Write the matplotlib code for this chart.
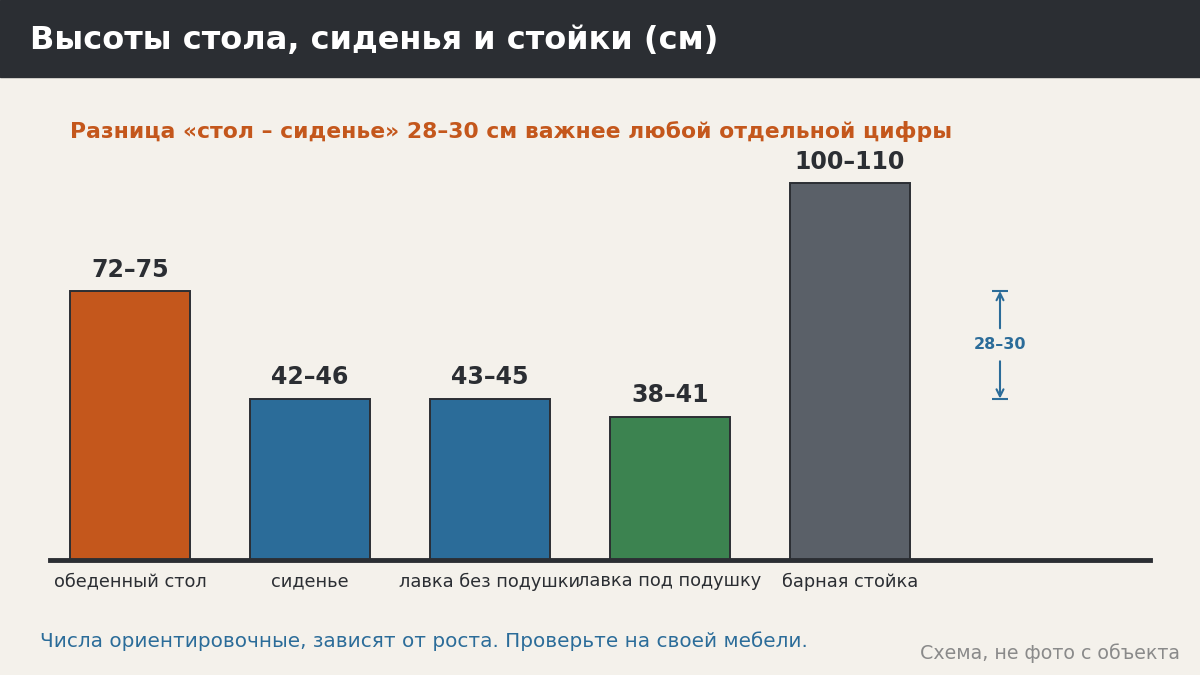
#!/usr/bin/env python3
"""Table / seat / bar counter heights, bar chart with a dimension marker."""
import matplotlib

matplotlib.use("Agg")
import matplotlib.pyplot as plt  # noqa: E402
from matplotlib.patches import Rectangle  # noqa: E402

plt.rcParams["font.family"] = ["DejaVu Sans"]

BG = "#f4f1eb"
DARK = "#2b2e33"
ORANGE = "#c4571c"
BLUE = "#2b6c99"
GREEN = "#3c8350"
GRAY = "#5a6068"

categories = ["обеденный стол", "сиденье", "лавка без подушки",
              "лавка под подушку", "барная стойка"]
heights = [75, 45, 45, 40, 105]
value_labels = ["72–75", "42–46", "43–45", "38–41", "100–110"]
bar_colors = [ORANGE, BLUE, BLUE, GREEN, GRAY]
gap_label = "28–30"

fig = plt.figure(figsize=(12, 6.75), dpi=100)
fig.patch.set_facecolor(BG)

# header band
fig.patches.append(Rectangle((0, 1 - 77 / 675), 1, 77 / 675,
                             transform=fig.transFigure, color=DARK, zorder=0))
fig.text(30 / 1200, 1 - 40 / 675, "Высоты стола, сиденья и стойки (см)",
         color="white", fontsize=23, fontweight="bold", va="center", ha="left")
fig.text(70 / 1200, 1 - 132 / 675,
         "Разница «стол – сиденье» 28–30 см важнее любой отдельной цифры",
         color=ORANGE, fontsize=15.75, fontweight="bold", va="center", ha="left")

ax = fig.add_axes([50 / 1200, 115 / 675, 1100 / 1200, 420 / 675])
ax.set_facecolor("none")
ax.set_xlim(-80 / 180, 1020 / 180)
ax.set_ylim(0, 420 / 3.587)

xs = list(range(len(categories)))
bars = ax.bar(xs, heights, width=120 / 180, color=bar_colors,
              edgecolor=DARK, linewidth=1.4, zorder=2)
for x, h, lab in zip(xs, heights, value_labels):
    ax.text(x, h + 2.6, lab, ha="center", va="bottom", fontsize=17,
            fontweight="bold", color=DARK)
ax.axhline(0, color=DARK, lw=3.5, zorder=3, clip_on=False)

ax.set_xticks(xs)
ax.set_xticklabels(categories, fontsize=12.8, color=DARK)
ax.tick_params(axis="x", length=0, pad=9)
ax.set_yticks([])
for s in ax.spines.values():
    s.set_visible(False)

# dimension marker: table minus seat
mx = 870 / 180
top, bot = heights[0], heights[1]
mid = (top + bot) / 2
cap = 8 / 180
ax.hlines([top, bot], mx - cap, mx + cap, color=BLUE, lw=1.5)
ax.annotate("", xy=(mx, top), xytext=(mx, mid + 4.6),
            arrowprops=dict(arrowstyle="->,head_length=0.5,head_width=0.25",
                            color=BLUE, lw=1.5, shrinkA=0, shrinkB=0))
ax.annotate("", xy=(mx, bot), xytext=(mx, mid - 4.6),
            arrowprops=dict(arrowstyle="->,head_length=0.5,head_width=0.25",
                            color=BLUE, lw=1.5, shrinkA=0, shrinkB=0))
ax.text(mx, mid, gap_label, ha="center", va="center", fontsize=11.5,
        fontweight="bold", color=BLUE)

fig.text(40 / 1200, 1 - 641 / 675,
         "Числа ориентировочные, зависят от роста. Проверьте на своей мебели.",
         color=BLUE, fontsize=14.4, va="center", ha="left")
fig.text(1180 / 1200, 1 - 653 / 675, "Схема, не фото с объекта",
         color="#8a8a8a", fontsize=13.7, va="center", ha="right")

fig.savefig("out.png", dpi=100, facecolor=BG)
